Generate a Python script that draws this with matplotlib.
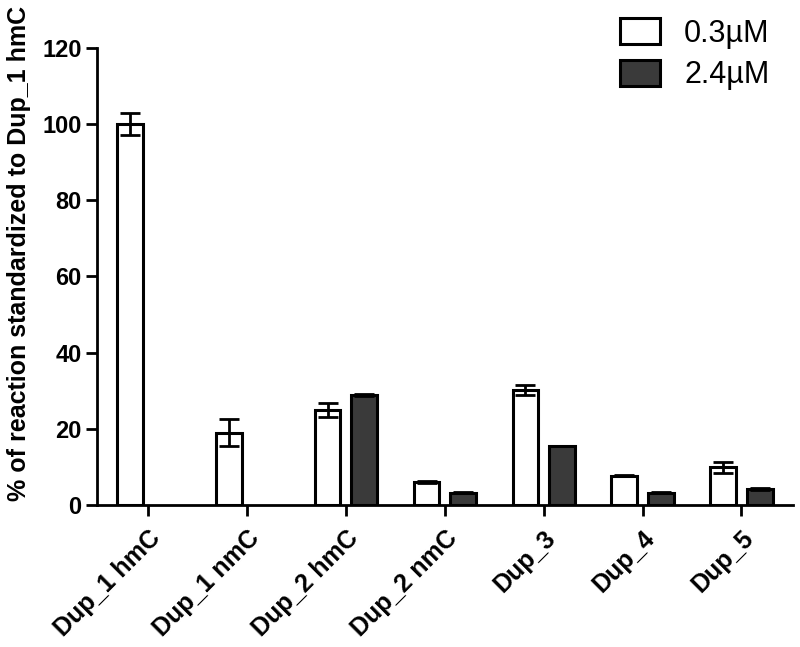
import matplotlib
matplotlib.use("Agg")
import matplotlib.pyplot as plt
import numpy as np

categories = ["Dup_1 hmC", "Dup_1 nmC", "Dup_2 hmC", "Dup_2 nmC", "Dup_3", "Dup_4", "Dup_5"]
low_vals = [100, 19, 25, 6.1, 30.2, 7.7, 9.9]
low_err = [3.0, 3.5, 1.8, 0.2, 1.3, 0.2, 1.4]
high_vals = [0, 0, 28.9, 3.2, 15.5, 3.2, 4.2]
high_err = [0, 0, 0.3, 0.1, 0.1, 0.1, 0.2]
series_names = ["0.3µM", "2.4µM"]

plt.rcParams['font.family'] = ['Liberation Sans', 'DejaVu Sans']

fig = plt.figure(figsize=(8, 6.47), dpi=100)
ax = fig.add_axes([0.121, 0.2195, 0.870, 0.7065])

x = np.arange(len(categories))
w = 0.26
off = 0.185
ekw = dict(elinewidth=2, capthick=2, capsize=7, ecolor='black')
ax.bar(x - off, low_vals, w, yerr=low_err, color='white', edgecolor='black',
       linewidth=2.2, error_kw=ekw, label=series_names[0], zorder=2)
hv = np.array(high_vals, dtype=float)
he = np.array(high_err, dtype=float)
mask = hv > 0
ax.bar(x[mask] + off, hv[mask], w, yerr=he[mask], color='#3a3a3a', edgecolor='black',
       linewidth=2.2, error_kw=ekw, label=series_names[1], zorder=2)

ax.set_xlim(-0.52, 6.52)
ax.set_ylim(0, 120)
ax.set_yticks(np.arange(0, 121, 20))
ax.set_xticks(x)
ax.set_xticklabels(categories, rotation=45, ha='right', rotation_mode='anchor',
                   fontsize=18, fontweight='bold')
for lab in ax.get_yticklabels():
    lab.set_fontsize(17)
    lab.set_fontweight('bold')
ax.tick_params(axis='both', direction='out', length=8, width=2, pad=3)
ax.tick_params(axis='x', pad=7)
for s in ['top', 'right']:
    ax.spines[s].set_visible(False)
for s in ['left', 'bottom']:
    ax.spines[s].set_linewidth(2)

ax.set_ylabel("% of reaction standardized to Dup_1 hmC", fontsize=18, fontweight='bold')
ax.yaxis.set_label_coords(-0.094, 0.55)

leg = fig.legend(loc='upper right', bbox_to_anchor=(0.985, 1.0), frameon=False,
                 fontsize=22, handlelength=1.3, handleheight=0.9, handletextpad=0.8,
                 labelspacing=0.38, borderaxespad=0.2)

fig.savefig("out.png", dpi=100)
